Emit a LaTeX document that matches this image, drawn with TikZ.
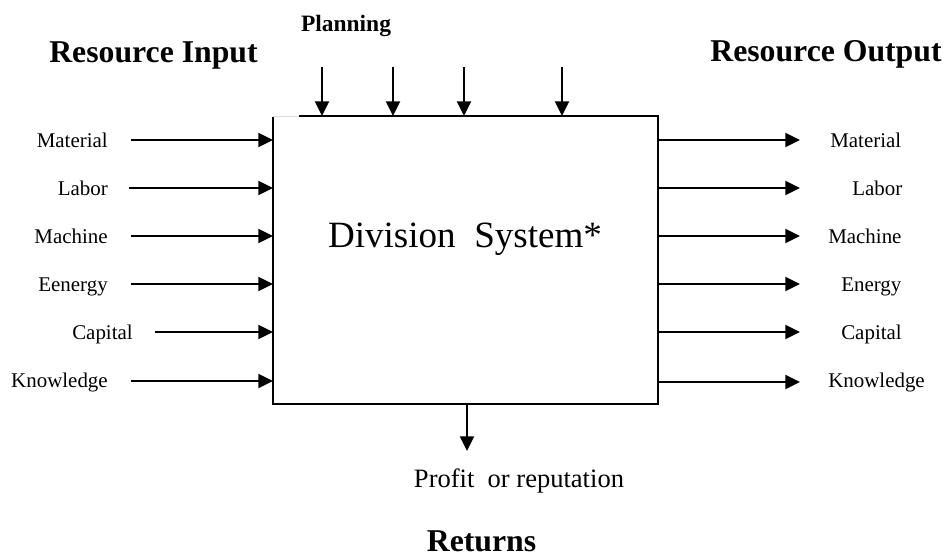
\documentclass[tikz,border=0pt]{standalone}
\usepackage{fontspec}
\setmainfont{Liberation Serif}
\usetikzlibrary{arrows.meta}
\tikzset{
  flow/.style={line width=1.5pt,-{Triangle[length=11pt,width=10.5pt]}},
  boxline/.style={line width=1.5pt},
  res/.style={font=\fontsize{15.7}{18}\selectfont,inner sep=0pt},
  head/.style={font=\fontsize{23.8}{28}\selectfont\bfseries,inner sep=0pt,anchor=base},
}
\begin{document}
\begin{tikzpicture}[x=0.75pt,y=-0.75pt]
\useasboundingbox (0,0) rectangle (946,557);

% the division system box
\coordinate (tl) at (273,116);
\coordinate (tg) at (299,116);
\coordinate (tr) at (658,116);
\coordinate (br) at (658,404);
\coordinate (bl) at (273,404);
\draw[boxline] (273,117) -- (bl) -- (br) -- (tr) -- (tg);
\draw[line width=0.5pt,black!15] (tl) -- (tg);
\node[inner sep=0pt,anchor=base,font=\fontsize{27.8}{32}\selectfont] (sys) at (465,247) {Division\ \ System*};

% headings
\node[head] (hin) at (153.5,62) {Resource Input};
\node[head] (hout) at (826,61) {Resource Output};
\node[head,font=\fontsize{17.6}{21}\selectfont\bfseries] (plan) at (346,31) {Planning};
\node[inner sep=0pt,anchor=base,font=\fontsize{19.9}{24}\selectfont] (profit) at (519,487) {Profit\ \ or reputation};
\node[head] (ret) at (481.5,551) {Returns};

% planning arrows into the top edge
\foreach \i/\x in {1/322,2/393,3/464,4/562}{
  \coordinate (p\i) at (\x,67);
  \coordinate (q\i) at (\x,116);
  \draw[flow] (p\i) -- (q\i);
}

% returns arrow out of the bottom edge
\coordinate (r0) at (467,404);
\coordinate (r1) at (467,451);
\draw[flow] (r0) -- (r1);

% resource inputs
\foreach \n/\lab/\lx/\ax/\ay/\by in {
  1/Material/108/131/140/147,
  2/Labor/108/129/188/195,
  3/Machine/108/131/236/243,
  4/Eenergy/108/131/284/291,
  5/Capital/133/155/332/339,
  6/Knowledge/108/131/381/387}{
  \node[res,anchor=base east] (in\n) at (\lx,\by) {\lab};
  \coordinate (ia\n) at (\ax,\ay);
  \coordinate (ib\n) at (273,\ay);
  \draw[flow] (ia\n) -- (ib\n);
}

% resource outputs
\foreach \n/\lab/\lx/\ay/\by in {
  1/Material/830/140/147,
  2/Labor/852/188/195,
  3/Machine/828/236/243,
  4/Energy/841/284/291,
  5/Capital/841/332/339,
  6/Knowledge/828/382/387}{
  \node[res,anchor=base west] (out\n) at (\lx,\by) {\lab};
  \coordinate (oa\n) at (658,\ay);
  \coordinate (ob\n) at (800,\ay);
  \draw[flow] (oa\n) -- (ob\n);
}
\end{tikzpicture}
\end{document}
